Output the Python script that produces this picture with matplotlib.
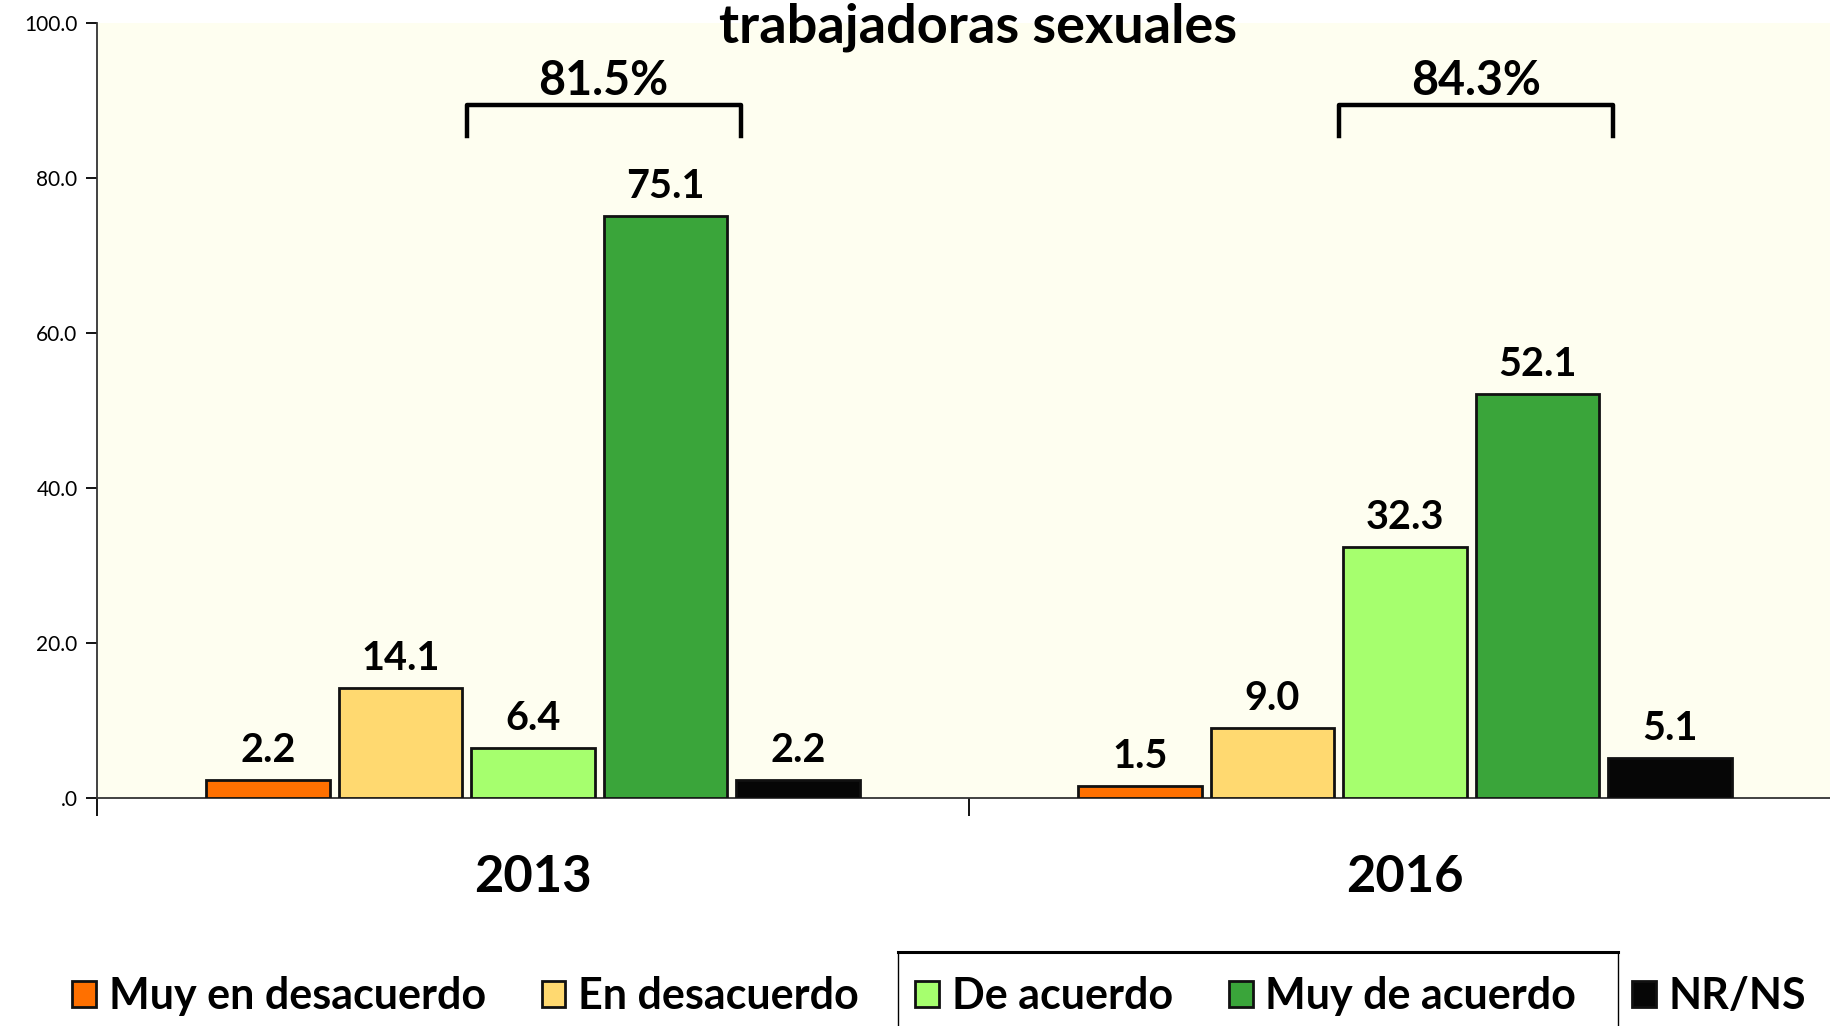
import matplotlib.pyplot as plt
import matplotlib.ticker as mticker
from matplotlib.lines import Line2D
import numpy as np

plt.rcParams['font.family'] = ['Lato', 'DejaVu Sans']

years = ['2013', '2016']
series = ['Muy en desacuerdo', 'En desacuerdo', 'De acuerdo', 'Muy de acuerdo', 'NR/NS']
values = {
    'Muy en desacuerdo': [2.2, 1.5],
    'En desacuerdo': [14.1, 9.0],
    'De acuerdo': [6.4, 32.3],
    'Muy de acuerdo': [75.1, 52.1],
    'NR/NS': [2.2, 5.1],
}
agree_totals = [81.5, 84.3]  # as printed on the chart
colors = ['#FF7000', '#FFD970', '#A6FF6E', '#3AA53A', '#060606']

fig = plt.figure(figsize=(18.31, 10.26), dpi=100)
ax = fig.add_axes([97 / 1831, 0.2227, 1744 / 1831, 0.7545])
ax.set_facecolor('#FEFEF0')

x = np.arange(len(years))
step = 0.152
width = 0.142
bars = []
for i, name in enumerate(series):
    pos = x + (i - 2) * step
    b = ax.bar(pos, values[name], width, color=colors[i], edgecolor='#111111',
               linewidth=2, label=name, zorder=3)
    bars.append(b)
    for xp, v in zip(pos, values[name]):
        ax.annotate(f'{v:.1f}', (xp, v), xytext=(0, 13), textcoords='offset points',
                    ha='center', va='baseline', fontsize=28.5, fontweight='bold')

# brackets over the "agree" bars
for k in range(len(years)):
    x0 = x[k] - width / 2 - 0.005
    x1 = x[k] + step + width / 2 + 0.015
    ax.plot([x0, x0, x1, x1], [85.4, 89.4, 89.4, 85.4], color='black', lw=3.2,
            solid_joinstyle='round', clip_on=False, zorder=4)
    ax.text((x0 + x1) / 2, 92.6, f'{agree_totals[k]:.1f}%', ha='center', va='center',
            fontsize=33.5, fontweight='bold')

ax.set_xlim(-0.5, 1.5)
ax.set_ylim(0, 100)
ax.yaxis.set_major_locator(mticker.MultipleLocator(20))
ax.yaxis.set_major_formatter(mticker.FuncFormatter(
    lambda v, p: '.0' if v == 0 else f'{v:.1f}'))
ax.tick_params(axis='y', labelsize=15, length=8, width=1.3, pad=6)

ax.set_xticks(x)
ax.set_xticklabels(years, fontsize=36.5, fontweight='bold')
ax.set_xticks([-0.5, 0.5, 1.5], minor=True)
ax.tick_params(axis='x', which='major', length=0, pad=41)
ax.tick_params(axis='x', which='minor', length=13, width=1.3)

for s in ['top', 'right']:
    ax.spines[s].set_visible(False)
for s in ['left', 'bottom']:
    ax.spines[s].set_linewidth(1.3)
    ax.spines[s].set_color('#333333')

fig.text(0.534, 1 - 42 / 1026, 'trabajadoras sexuales', ha='center', va='baseline',
         fontsize=39, fontweight='bold')

fig.legend(handles=bars, labels=series, loc='center', bbox_to_anchor=(0.513, 0.029),
           ncol=5, frameon=False, prop={'size': 31, 'weight': 'bold'},
           handlelength=0.55, handleheight=0.55, handletextpad=0.3, columnspacing=1.3)

# stray frame around the middle legend entries
fig.add_artist(Line2D([898 / 1831, 1618 / 1831], [1 - 952 / 1026] * 2,
                      transform=fig.transFigure, color='black', lw=2.2))
fig.add_artist(Line2D([898 / 1831] * 2, [1 - 952 / 1026, 0],
                      transform=fig.transFigure, color='black', lw=1))
fig.add_artist(Line2D([1618 / 1831] * 2, [1 - 952 / 1026, 0],
                      transform=fig.transFigure, color='black', lw=1))

fig.savefig('out.png', dpi=100)
